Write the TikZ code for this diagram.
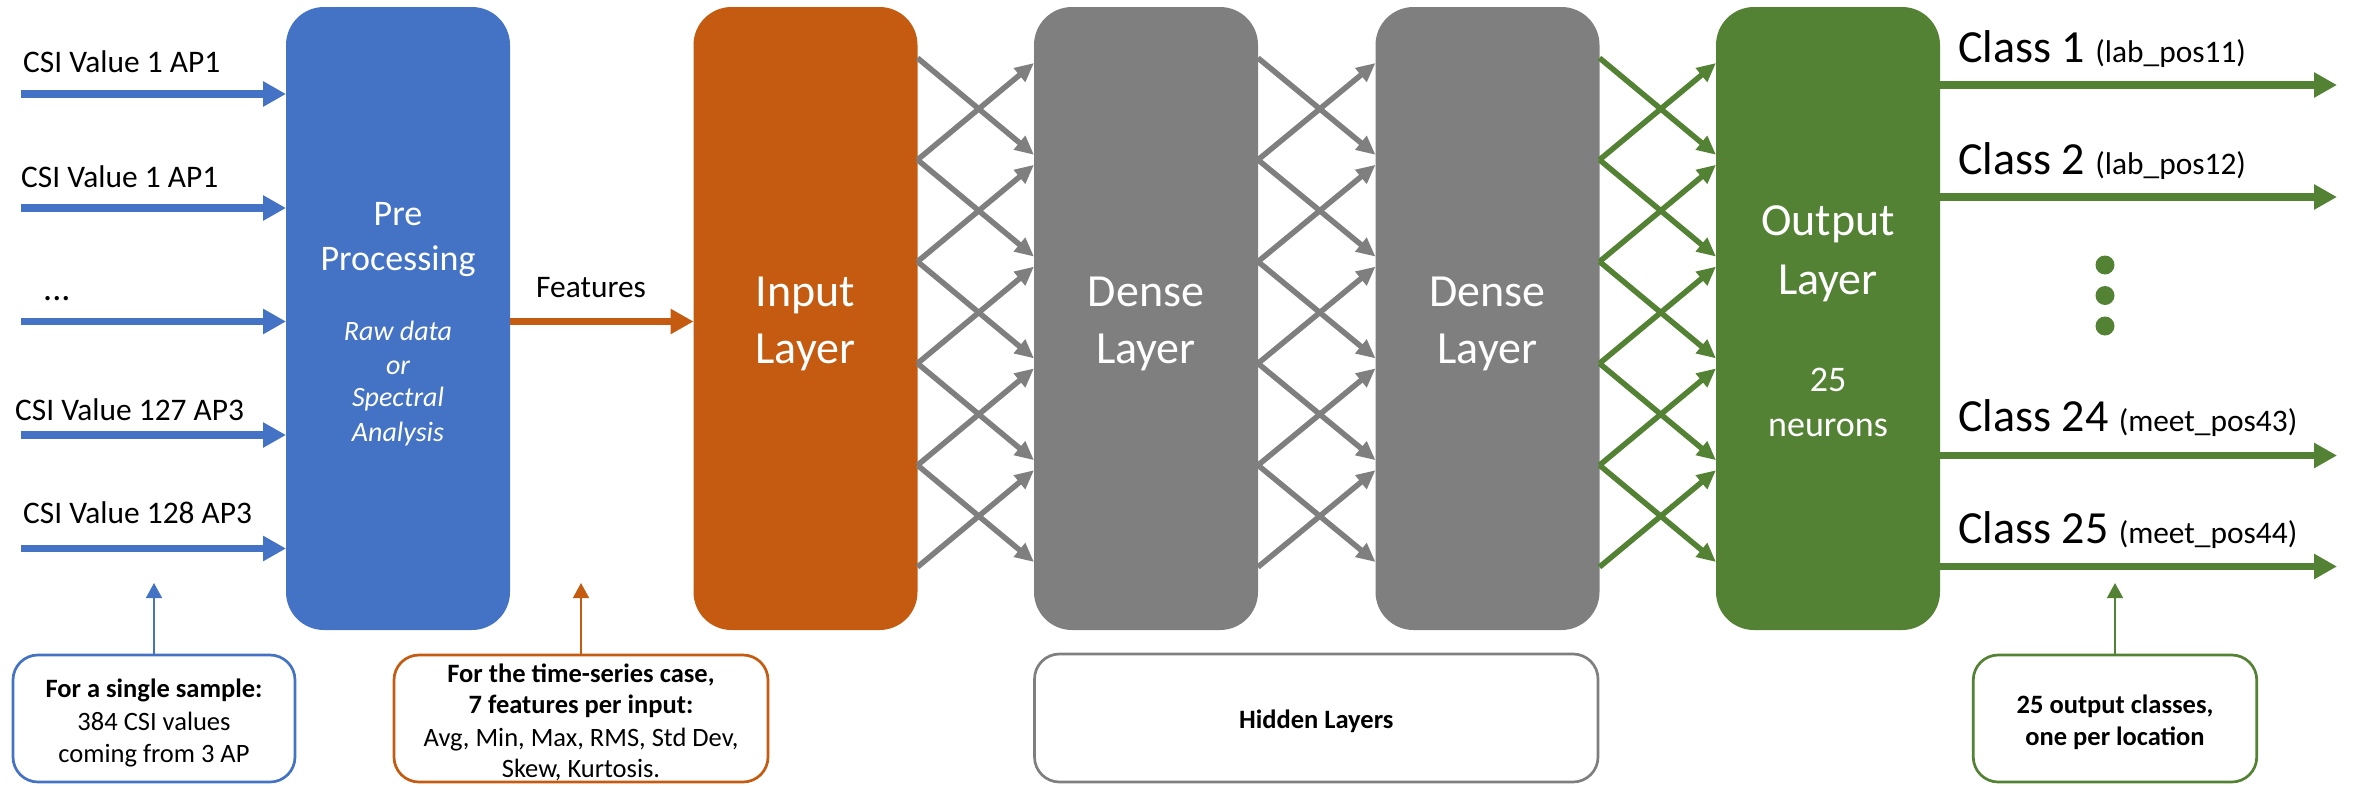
\documentclass[tikz,border=0pt]{standalone}
\usepackage{fontspec}
\setmainfont{Carlito}
\usetikzlibrary{arrows.meta}
\definecolor{cblue}{HTML}{4472C4}
\definecolor{corange}{HTML}{C55A11}
\definecolor{cgray}{HTML}{7F7F7F}
\definecolor{cgreen}{HTML}{548235}
\newcommand\setfs[1]{\fontsize{#1}{#1}\selectfont}
\begin{document}
\begin{tikzpicture}[x=1pt,y=-1pt,
  layer/.style={rounded corners=38pt, minimum width=224pt, minimum height=623pt, inner sep=0pt, outer sep=0pt},
  big/.style={font=\setfs{46}, text=white, inner sep=0pt, anchor=base},
  mid/.style={font=\setfs{36}, text=white, inner sep=0pt, anchor=base},
  ital/.style={font=\setfs{28}\itshape, text=white, inner sep=0pt, anchor=base},
  lbl/.style={font=\setfs{31.4}, inner sep=0pt, anchor=base west},
  cls/.style={font=\setfs{46}, inner sep=0pt, anchor=base west},
  barrow/.style={draw=#1, line width=7.5pt, -{Triangle[length=23pt,width=24pt]}},
  link/.style={draw=#1, line width=5.5pt, -{Triangle[length=19pt,width=17pt]}},
  note/.style={draw=#1, fill=white, line width=2.7pt, rounded corners=25pt, inner sep=0pt, outer sep=0pt},
  ntxt/.style={font=\setfs{26.5}, inner sep=0pt, anchor=base},
  nbold/.style={font=\setfs{26.5}\bfseries, inner sep=0pt, anchor=base},
  cnx/.style={draw=#1, line width=1.5pt, -{Triangle[length=15pt,width=16pt]}},
  dot/.style={circle, fill=cgreen, inner sep=0pt, minimum size=19pt}]
\useasboundingbox (0,0) rectangle (2353,785);

% layer blocks
\node[layer, fill=cblue]   (pre)  at (398,318.5)  {};
\node[layer, fill=corange] (inl)  at (805.5,318.5) {};
\node[layer, fill=cgray]   (da)   at (1146,318.5) {};
\node[layer, fill=cgray]   (db)   at (1487.5,318.5) {};
\node[layer, fill=cgreen]  (outl) at (1828,318.5) {};

% block captions
\node[mid]  (pre1) at (398,225)   {Pre};
\node[mid]  (pre2) at (398,270)   {Processing};
\node[ital] (pre3) at (398,340.5) {Raw data};
\node[ital] (pre4) at (398,374)   {or};
\node[ital] (pre5) at (398,406.5) {Spectral};
\node[ital] (pre6) at (398,441)   {Analysis};

\node[big] (inl1) at (805.5,306) {Input};
\node[big] (inl2) at (805.5,363) {Layer};
\node[big] (da1) at (1146,306) {Dense};
\node[big] (da2) at (1146,363) {Layer};
\node[big] (db1) at (1487.5,306) {Dense};
\node[big] (db2) at (1487.5,363) {Layer};
\node[big] (out1) at (1828,235) {Output};
\node[big] (out2) at (1828,294) {Layer};
\node[mid] (out3) at (1828,391) {25};
\node[mid] (out4) at (1828,436) {neurons};

% raw CSI inputs
\coordinate (in1) at (21,94);
\coordinate (in2) at (21,208);
\coordinate (in3) at (21,321.5);
\coordinate (in4) at (21,435);
\coordinate (in5) at (21,548.5);
\foreach \i in {1,...,5}{\draw[barrow=cblue] (in\i) -- (in\i -| pre.west);}
\node[lbl] (l1) at (23,72)    {CSI Value 1 AP1};
\node[lbl] (l2) at (21,187.5) {CSI Value 1 AP1};
\node[lbl, font=\setfs{36}] (l3) at (43,300) {...};
\node[lbl] (l4) at (15,420)   {CSI Value 127 AP3};
\node[lbl] (l5) at (23,523)   {CSI Value 128 AP3};

% features
\draw[barrow=corange] (pre.east |- in3) -- (inl.west |- in3);
\node[lbl] (feat) at (536,297) {Features};

% fully connected links between layers
\foreach \k in {0,...,5}{
  \coordinate (r\k) at (0,{58+101.8*\k});
  \coordinate (s\k) at (0,{53+101.8*\k});
  \coordinate (t\k) at (0,{63+101.8*\k});
}
\foreach \a/\b/\c in {inl/da/cgray, da/db/cgray, db/outl/cgreen}{
  \foreach \k [evaluate=\k as \n using int(\k+1)] in {0,...,4}{
    \draw[link=\c] (\a.east |- r\k) -- (\b.west |- s\n);
    \draw[link=\c] (\a.east |- r\n) -- (\b.west |- t\k);
  }
}

% output classes
\coordinate (o1) at (2337,85);
\coordinate (o2) at (2337,197);
\coordinate (o3) at (2337,455.5);
\coordinate (o4) at (2337,566.5);
\foreach \i in {1,...,4}{\draw[barrow=cgreen] (o\i -| outl.east) -- (o\i);}
\node[cls] (c1) at (1958,62)    {Class 1 {\setfs{31.4}(lab\_pos11)}};
\node[cls] (c2) at (1958,174.5) {Class 2 {\setfs{31.4}(lab\_pos12)}};
\node[cls] (c3) at (1958,431)   {Class 24 {\setfs{31.4}(meet\_pos43)}};
\node[cls] (c4) at (1958,543.5) {Class 25 {\setfs{31.4}(meet\_pos44)}};
\node[dot] (dt1) at (2105,265) {};
\node[dot] (dt2) at (2105,295.5) {};
\node[dot] (dt3) at (2105,326) {};

% annotation boxes
\node[note=cblue,   minimum width=282pt,   minimum height=127pt] (nb) at (154,718.5) {};
\node[note=corange, minimum width=374pt,   minimum height=127pt] (no) at (581,718.5) {};
\node[note=cgray,   minimum width=563.5pt, minimum height=128pt] (ng) at (1316.25,718) {};
\node[note=cgreen,  minimum width=283.5pt, minimum height=127pt] (nr) at (2115,718.5) {};

\coordinate (tb) at (154,583);
\coordinate (to) at (581,583);
\coordinate (tr) at (2115,583);
\draw[cnx=cblue]   (nb.north) -- (tb);
\draw[cnx=corange] (no.north) -- (to);
\draw[cnx=cgreen]  (nr.north) -- (tr);

\node[nbold] (nb1) at (154,697) {For a single sample:};
\node[ntxt]  (nb2) at (154,730) {384 CSI values};
\node[ntxt]  (nb3) at (154,762) {coming from 3 AP};

\node[nbold] (no1) at (581,682)   {For the time-series case,};
\node[nbold] (no2) at (581,713.5) {7 features per input:};
\node[ntxt]  (no3) at (581,746)   {Avg, Min, Max, RMS, Std Dev,};
\node[ntxt]  (no4) at (581,777)   {Skew, Kurtosis.};

\node[nbold] (ng1) at (1316.25,728) {Hidden Layers};

\node[nbold] (nr1) at (2115,713.5) {25 output classes,};
\node[nbold] (nr2) at (2115,745)   {one per location};
\end{tikzpicture}
\end{document}
